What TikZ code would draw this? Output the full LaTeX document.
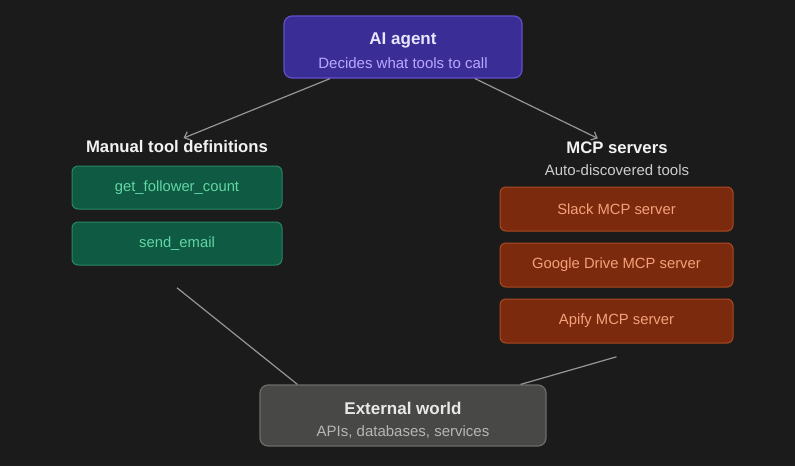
\documentclass[tikz,border=0pt]{standalone}
\usepackage{fontspec}
\setmainfont{Liberation Sans}
\usetikzlibrary{arrows.meta,positioning,calc,fit,backgrounds}
\definecolor{PageDark}{RGB}{27,27,27}
\definecolor{PanelDark}{RGB}{31,31,31}
\definecolor{PanelEdge}{RGB}{38,38,38}
\definecolor{AgentFill}{RGB}{59,45,150}
\definecolor{AgentEdge}{RGB}{96,80,200}
\definecolor{AgentText}{RGB}{232,229,255}
\definecolor{AgentSub}{RGB}{185,168,255}
\definecolor{ToolFill}{RGB}{14,90,67}
\definecolor{ToolEdge}{RGB}{42,134,100}
\definecolor{ToolText}{RGB}{98,214,164}
\definecolor{ServerFill}{RGB}{124,42,14}
\definecolor{ServerEdge}{RGB}{172,74,34}
\definecolor{ServerText}{RGB}{244,160,122}
\definecolor{WorldFill}{RGB}{72,72,70}
\definecolor{WorldEdge}{RGB}{108,108,106}
\definecolor{WorldText}{RGB}{232,232,232}
\definecolor{WorldSub}{RGB}{182,182,182}
\definecolor{LinkGray}{RGB}{150,150,150}

\begin{document}
\begin{tikzpicture}[x=1pt, y=-1pt,
    bigbox/.style={rounded corners=8pt, line width=1.2pt, inner sep=0pt},
    bigtitle/.style={font=\bfseries\fontsize{17}{20}\selectfont, inner sep=0pt},
    bigsub/.style={font=\fontsize{15}{18}\selectfont, inner sep=0pt},
    toolbox/.style={rounded corners=6pt, line width=1pt, fill=ToolFill, draw=ToolEdge, text=ToolText,
      minimum width=210pt, minimum height=43pt, inner sep=0pt, font=\fontsize{14.8}{17}\selectfont},
    serverbox/.style={rounded corners=6pt, line width=1pt, fill=ServerFill, draw=ServerEdge, text=ServerText,
      minimum width=233pt, minimum height=44pt, inner sep=0pt, font=\fontsize{14.8}{17}\selectfont},
    head/.style={text=white!95!black, font=\bfseries\fontsize{16.7}{19}\selectfont, inner sep=0pt},
    panel/.style={rounded corners=10pt, fill=PanelDark, draw=PanelEdge, line width=0.6pt},
    arr/.style={-{Straight Barb[length=5pt,width=9pt]}, line width=1.2pt, LinkGray},
    link/.style={line width=1.2pt, LinkGray}
  ]
  \fill[PageDark] (0,0) rectangle (795,466);
  \useasboundingbox (0,0) rectangle (795,466);

  \node[bigbox, fill=AgentFill, draw=AgentEdge, minimum width=238pt, minimum height=62pt] (agent) at (403,47) {};
  \node[bigtitle, text=AgentText] (agenttitle) at ([yshift=7pt]agent.center) {AI agent};
  \node[bigsub, text=AgentSub] (agentsub) at ([yshift=-16pt]agent.center) {Decides what tools to call};

  % left group
  \node[head] (mtdhead) at (177,147) {Manual tool definitions};
  \node[toolbox] (getfc) at (177,187.5) {get\_follower\_count};
  \node[toolbox, below=12pt of getfc] (sendem) {send\_email};

  % right group
  \node[head] (mcphead) at (617,148) {MCP servers};
  \node[text=white!80!black, font=\fontsize{15}{18}\selectfont, inner sep=0pt, below=10pt of mcphead] (mcpsub) {Auto-discovered tools};
  \node[serverbox] (slack) at (616.5,209) {Slack MCP server};
  \node[serverbox, below=11pt of slack] (gdrive) {Google Drive MCP server};
  \node[serverbox, below=11pt of gdrive] (apify) {Apify MCP server};

  \node[bigbox, fill=WorldFill, draw=WorldEdge, minimum width=286pt, minimum height=61pt] (world) at (403,415.5) {};
  \node[bigtitle, text=WorldText] (worldtitle) at ([yshift=7.5pt]world.center) {External world};
  \node[bigsub, text=WorldSub] (worldsub) at ([yshift=-16.5pt]world.center) {APIs, databases, services};

  \begin{scope}[on background layer]
    \node[panel, inner xsep=26pt, inner ysep=22pt, fit=(mtdhead)(getfc)(sendem)] (leftpanel) {};
    \node[panel, inner xsep=28pt, inner ysep=13pt, fit=(mcphead)(slack)(apify)] (rightpanel) {};
  \end{scope}

  \draw[arr, shorten >=7pt] ([xshift=-73pt]agent.south) -- (mtdhead.north);
  \draw[arr, shorten >=8pt] ([xshift=72pt]agent.south) -- ([xshift=-12pt]mcphead.north);
  \draw[link] (leftpanel.south) -- ([xshift=38pt]world.north west);
  \draw[link] (rightpanel.south) -- ([xshift=-26pt]world.north east);
\end{tikzpicture}
\end{document}
